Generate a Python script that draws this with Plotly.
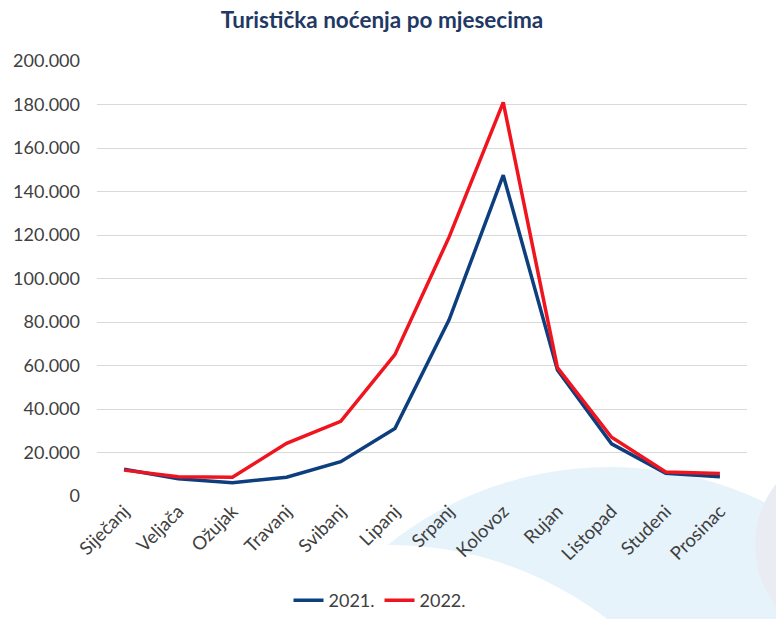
import plotly.graph_objects as go

months = ["Siječanj", "Veljača", "Ožujak", "Travanj", "Svibanj", "Lipanj",
          "Srpanj", "Kolovoz", "Rujan", "Listopad", "Studeni", "Prosinac"]
nights_2021 = [12300, 7900, 6100, 8600, 15800, 31000, 81000, 147500, 58000, 24000, 10500, 8900]
nights_2022 = [11900, 8900, 8600, 24200, 34300, 65000, 119000, 181000, 59000, 27000, 11000, 10400]
y_ticks = [0, 20000, 40000, 60000, 80000, 100000, 120000, 140000, 160000, 180000, 200000]

OFF = 8  # page body margin
W, H = 784 - OFF, 619 - OFF
L, R, T, B = 97 - OFF, 747 - OFF, 61 - OFF, 496 - OFF

def px(x):
    return (x - OFF - L) / (R - L)

def py(y):
    return (B - (y - OFF)) / (B - T)

fig = go.Figure()
fig.add_trace(go.Scatter(x=months, y=nights_2021, mode="lines", name="2021.",
                         line=dict(color="#0D3F7E", width=3.5)))
fig.add_trace(go.Scatter(x=months, y=nights_2022, mode="lines", name="2022.",
                         line=dict(color="#F0141E", width=3.5)))

shapes = [
    dict(type="circle", xref="paper", yref="paper", layer="below", line_width=0,
         fillcolor="#E6F3FB", x0=px(254), x1=px(966), y0=py(1179), y1=py(467)),
    dict(type="circle", xref="paper", yref="paper", layer="below", line_width=0,
         fillcolor="#FFFFFF", x0=px(35), x1=px(745), y0=py(1255), y1=py(545)),
    dict(type="circle", xref="paper", yref="paper", layer="below", line_width=0,
         fillcolor="#E9EDF3", x0=px(755), x1=px(955), y0=py(645), y1=py(445)),
]

fig.update_layout(
    width=W, height=H,
    margin=dict(l=L, r=W - R, t=T, b=H - B, autoexpand=False),
    paper_bgcolor="white",
    plot_bgcolor="rgba(0,0,0,0)",
    separators=",.",
    font=dict(family="Lato, sans-serif", size=18, color="#404040"),
    title=dict(text="<b>Turistička noćenja po mjesecima</b>",
               font=dict(family="Lato, sans-serif", size=22.5, color="#1F3864"),
               x=(382 - OFF) / W, xanchor="center", xref="container",
               y=1 - 4 / H, yanchor="top", yref="container"),
    xaxis=dict(type="category", range=[-0.5, 11.5], showgrid=False,
               showline=False, zeroline=False, tickangle=-45, automargin=False,
               tickfont=dict(size=18.5, color="#404040"), ticks=""),
    yaxis=dict(range=[0, 200000], tickvals=y_ticks, tickformat=",d",
               showgrid=True, gridcolor="#D9D9D9", gridwidth=1, automargin=False,
               zeroline=False, showline=False, ticks="",
               ticklabelstandoff=16,
               tickfont=dict(size=18, color="#404040")),
    legend=dict(orientation="h", xref="container", yref="container",
                x=(380 - OFF) / W, xanchor="center", y=-4 / H, yanchor="bottom",
                font=dict(size=18, color="#404040"), bgcolor="rgba(0,0,0,0)",
                itemwidth=30),
    shapes=shapes,
    showlegend=True,
)

fig.write_html("out.html")
